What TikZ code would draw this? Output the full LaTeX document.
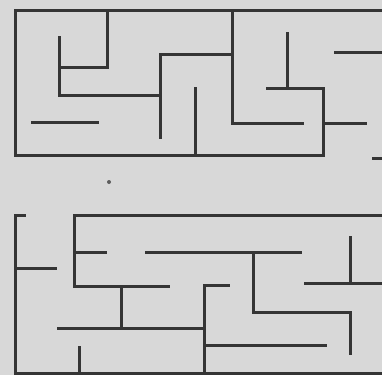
\documentclass[tikz,border=0pt]{standalone}
\definecolor{bg}{HTML}{D8D8D8}
\definecolor{ink}{HTML}{353535}
\begin{document}
\begin{tikzpicture}[x=1pt,y=-1pt,wall/.style={draw=ink,line width=3pt,line cap=rect,line join=miter}]
\fill[bg] (0,0) rectangle (382,375);
\useasboundingbox (0,0) rectangle (382,375);
% ---- top maze ----
\draw[wall] (382,10) -- (15,10) -- (15,155) -- (323,155);
\draw[wall] (107,10) -- (107,67) -- (59,67);
\draw[wall] (59,37) -- (59,95) -- (160,95);
\draw[wall] (160,137) -- (160,54) -- (232,54);
\draw[wall] (32,122) -- (97,122);
\draw[wall] (195,88) -- (195,155);
\draw[wall] (232,10) -- (232,123) -- (302,123);
\draw[wall] (287,33) -- (287,88);
\draw[wall] (267,88) -- (323,88) -- (323,155);
\draw[wall] (323,123) -- (365,123);
\draw[wall] (335,52) -- (382,52);
\draw[wall] (373,158) -- (382,158);
\fill[ink!80] (109,182) circle (2);
% ---- bottom maze ----
\draw[wall] (24,215) -- (15,215) -- (15,373) -- (382,373);
\draw[wall] (15,268) -- (55,268);
\draw[wall] (382,215) -- (74,215) -- (74,286) -- (168,286);
\draw[wall] (74,252) -- (105,252);
\draw[wall] (146,252) -- (300,252);
\draw[wall] (121,286) -- (121,328);
\draw[wall] (58,328) -- (204,328);
\draw[wall] (79,347) -- (79,373);
\draw[wall] (228,285) -- (204,285) -- (204,373);
\draw[wall] (204,345) -- (325,345);
\draw[wall] (253,252) -- (253,312) -- (350,312) -- (350,353);
\draw[wall] (350,237) -- (350,283);
\draw[wall] (305,283) -- (382,283);
\end{tikzpicture}
\end{document}
